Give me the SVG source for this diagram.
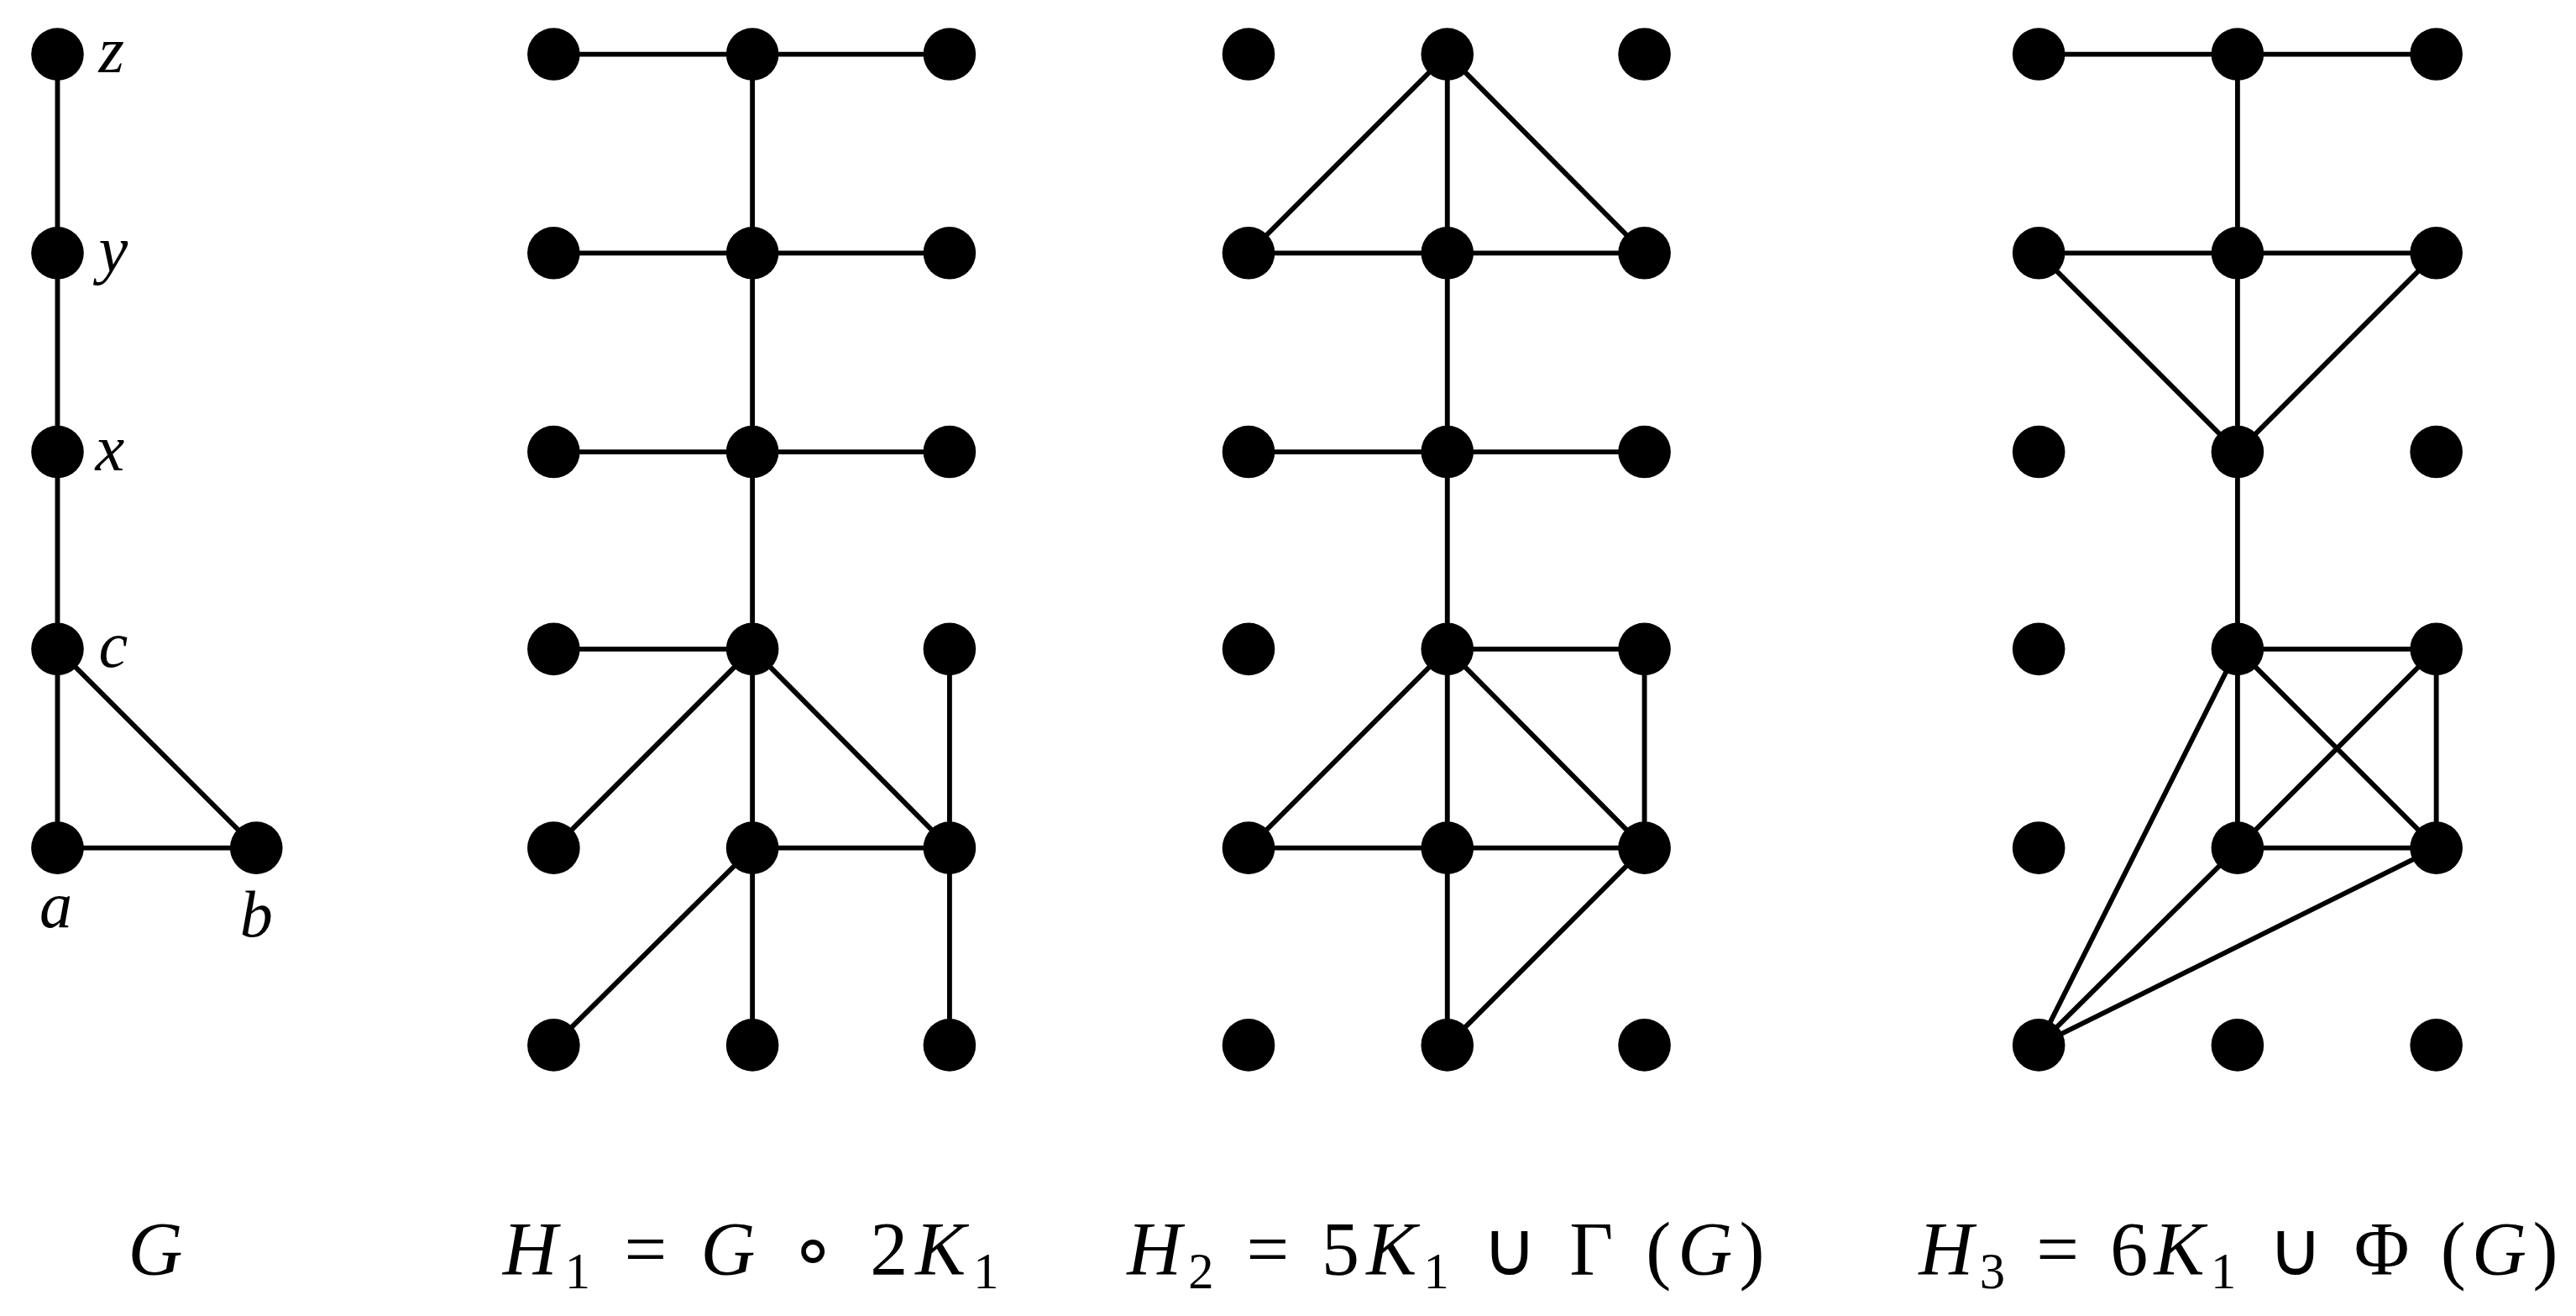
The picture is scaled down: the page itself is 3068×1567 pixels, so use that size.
<svg xmlns="http://www.w3.org/2000/svg" width="3068" height="1567" viewBox="0 0 3068 1567">
<style>
.e{stroke:#000;stroke-width:3;fill:none}
.n{fill:#000}
text{font-family:"Liberation Serif",serif;font-size:40px;fill:#000}
.b{font-size:46px}
.i{font-style:italic}
</style>
<defs><circle id="d" r="16" class="n"/></defs>
<rect width="3068" height="1567" fill="#fff"/>
<g transform="scale(1.9566)">
<g id="connectors" class="e">
<path d="M35 33V516H156L35 395"/>
<path d="M337 33H578M458 33V636M337 154H578M337 275H578M337 395H458M458 395L337 516M458 395L578 516M578 395V636M458 516H578M458 516L337 636"/>
<path d="M881 33V636M881 33L760 154M881 33L1001 154M760 154H1001M760 275H1001M881 395H1001M881 395L760 516M881 395L1001 516M1001 395V516M760 516H1001M1001 516L881 636"/>
<path d="M1241 33H1483M1362 33V516M1241 154H1483M1241 154L1362 275L1483 154M1362 395H1483V516H1362M1362 395L1483 516M1483 395L1362 516M1362 395L1241 636L1362 516M1241 636L1483 516"/>
</g>
<g id="G">
<use href="#d" x="35" y="33"/><use href="#d" x="35" y="154"/><use href="#d" x="35" y="275"/><use href="#d" x="35" y="395"/><use href="#d" x="35" y="516"/><use href="#d" x="156" y="516"/>
<text class="i" x="60" y="44">z</text><text class="i" x="60" y="165">y</text><text class="i" x="58" y="286">x</text><text class="i" x="60" y="406">c</text><text class="i" x="24" y="564">a</text><text class="i" x="146" y="570">b</text>
</g>
<g id="H1">
<use href="#d" x="337" y="33"/><use href="#d" x="458" y="33"/><use href="#d" x="578" y="33"/>
<use href="#d" x="337" y="154"/><use href="#d" x="458" y="154"/><use href="#d" x="578" y="154"/>
<use href="#d" x="337" y="275"/><use href="#d" x="458" y="275"/><use href="#d" x="578" y="275"/>
<use href="#d" x="337" y="395"/><use href="#d" x="458" y="395"/><use href="#d" x="578" y="395"/>
<use href="#d" x="337" y="516"/><use href="#d" x="458" y="516"/><use href="#d" x="578" y="516"/>
<use href="#d" x="337" y="636"/><use href="#d" x="458" y="636"/><use href="#d" x="578" y="636"/>
</g>
<g id="H2">
<use href="#d" x="760" y="33"/><use href="#d" x="881" y="33"/><use href="#d" x="1001" y="33"/>
<use href="#d" x="760" y="154"/><use href="#d" x="881" y="154"/><use href="#d" x="1001" y="154"/>
<use href="#d" x="760" y="275"/><use href="#d" x="881" y="275"/><use href="#d" x="1001" y="275"/>
<use href="#d" x="760" y="395"/><use href="#d" x="881" y="395"/><use href="#d" x="1001" y="395"/>
<use href="#d" x="760" y="516"/><use href="#d" x="881" y="516"/><use href="#d" x="1001" y="516"/>
<use href="#d" x="760" y="636"/><use href="#d" x="881" y="636"/><use href="#d" x="1001" y="636"/>
</g>
<g id="H3">
<use href="#d" x="1241" y="33"/><use href="#d" x="1362" y="33"/><use href="#d" x="1483" y="33"/>
<use href="#d" x="1241" y="154"/><use href="#d" x="1362" y="154"/><use href="#d" x="1483" y="154"/>
<use href="#d" x="1241" y="275"/><use href="#d" x="1362" y="275"/><use href="#d" x="1483" y="275"/>
<use href="#d" x="1241" y="395"/><use href="#d" x="1362" y="395"/><use href="#d" x="1483" y="395"/>
<use href="#d" x="1241" y="516"/><use href="#d" x="1362" y="516"/><use href="#d" x="1483" y="516"/>
<use href="#d" x="1241" y="636"/><use href="#d" x="1362" y="636"/><use href="#d" x="1483" y="636"/>
</g>
<g id="labels">
<text class="i b" x="78" y="776">G</text>
<text class="b" x="306" y="776" textLength="302" lengthAdjust="spacing"><tspan class="i">H</tspan><tspan font-size="31" dy="8">1</tspan><tspan dy="-8"> = </tspan><tspan class="i">G</tspan> ∘ 2<tspan class="i">K</tspan><tspan font-size="31" dy="8">1</tspan></text>
<text class="b" x="686" y="776" textLength="388" lengthAdjust="spacing"><tspan class="i">H</tspan><tspan font-size="31" dy="8">2</tspan><tspan dy="-8"> = 5</tspan><tspan class="i">K</tspan><tspan font-size="31" dy="8">1</tspan><tspan dy="-8"> ∪ Γ (</tspan><tspan class="i">G</tspan>)</text>
<text class="b" x="1168" y="776" textLength="389" lengthAdjust="spacing"><tspan class="i">H</tspan><tspan font-size="31" dy="8">3</tspan><tspan dy="-8"> = 6</tspan><tspan class="i">K</tspan><tspan font-size="31" dy="8">1</tspan><tspan dy="-8"> ∪ Φ (</tspan><tspan class="i">G</tspan>)</text>
</g>
</g>
</svg>
